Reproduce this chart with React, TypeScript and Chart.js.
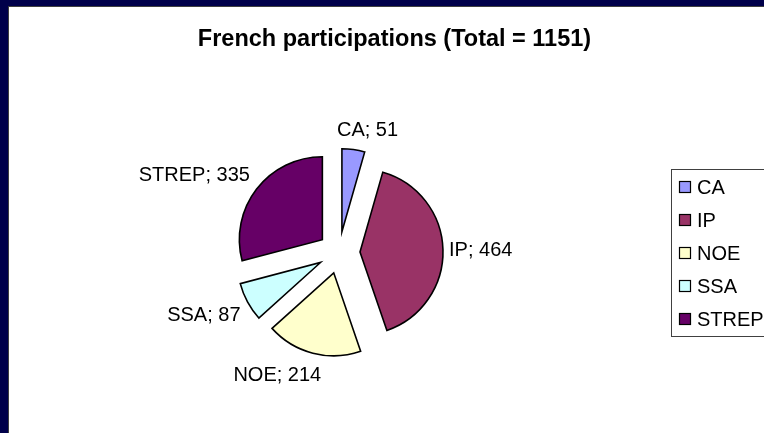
import React, { useEffect, useRef } from "react";
import { Chart, registerables } from "chart.js";

Chart.register(...registerables);

const categories = ["CA", "IP", "NOE", "SSA", "STREP"];
const participations = [51, 464, 214, 87, 335];
const total = 1151;
const titleText = `French participations (Total = ${total})`;
const sliceColors = ["#9999FF", "#993366", "#FFFFCC", "#CCFFFF", "#660066"];

const FONT = '"Liberation Sans", Arial, Helvetica, sans-serif';
const EXPLODE = 21;
const RADIUS = 83;
const LABEL_SIZE = 20;
const CAP = 0.716;

const W = 755;
const H = 426;

export default function App() {
  const ref = useRef<HTMLCanvasElement>(null);

  useEffect(() => {
    if (!ref.current) return;

    const explodePlugin = {
      id: "explodeSlices",
      beforeDatasetsDraw(chart: any) {
        const ctx = chart.ctx;
        const meta = chart.getDatasetMeta(0);
        meta.data.forEach((arc: any) => {
          const p = arc.getProps(["startAngle", "endAngle"], true);
          const mid = (p.startAngle + p.endAngle) / 2;
          ctx.save();
          ctx.translate(Math.cos(mid) * EXPLODE, Math.sin(mid) * EXPLODE);
          arc.draw(ctx);
          ctx.restore();
        });
        return false;
      },
    };

    const decorPlugin = {
      id: "decor",
      afterDraw(chart: any) {
        const ctx = chart.ctx;
        const meta = chart.getDatasetMeta(0);
        const labels = chart.data.labels as string[];
        const data = chart.data.datasets[0].data as number[];
        const colors = chart.data.datasets[0].backgroundColor as string[];

        // Title
        ctx.save();
        ctx.fillStyle = "#000";
        ctx.font = `bold 23.5px ${FONT}`;
        ctx.textAlign = "center";
        ctx.textBaseline = "alphabetic";
        ctx.fillText(titleText, 385.5, 39.3);
        ctx.restore();

        // Data labels
        ctx.save();
        ctx.font = `${LABEL_SIZE}px ${FONT}`;
        ctx.fillStyle = "#000";
        ctx.textAlign = "left";
        ctx.textBaseline = "alphabetic";
        const capH = LABEL_SIZE * CAP;
        const boxH = capH + 8;
        meta.data.forEach((arc: any, i: number) => {
          const p = arc.getProps(["x", "y", "startAngle", "endAngle", "outerRadius"], true);
          const mid = (p.startAngle + p.endAngle) / 2;
          const gap = 6 + 4 * Math.abs(Math.sin(mid));
          const dist = p.outerRadius + EXPLODE + gap;
          const ax = p.x + Math.cos(mid) * dist;
          const ay = p.y + Math.sin(mid) * dist;
          const text = `${labels[i]}; ${data[i]}`;
          const w = ctx.measureText(text).width;
          const xf = Math.min(1, Math.max(0, 0.5 - 1.5 * Math.cos(mid)));
          const yf = Math.min(1, Math.max(0, 0.5 - 0.74 * Math.sin(mid)));
          const left = ax - w * xf;
          const top = ay - boxH * yf;
          ctx.fillText(text, left, top + 4 + capH);
        });
        ctx.restore();

        // Legend
        ctx.save();
        ctx.strokeStyle = "#404040";
        ctx.lineWidth = 1;
        ctx.strokeRect(662.5, 162.5, 200, 167);
        ctx.font = `${LABEL_SIZE}px ${FONT}`;
        ctx.textBaseline = "alphabetic";
        labels.forEach((lab, i) => {
          const cy = 180 + i * 33;
          ctx.fillStyle = colors[i];
          ctx.fillRect(670.5, cy - 5.5, 11, 11);
          ctx.strokeStyle = "#000";
          ctx.lineWidth = 1.2;
          ctx.strokeRect(670.5, cy - 5.5, 11, 11);
          ctx.fillStyle = "#000";
          ctx.fillText(lab, 688, cy + capH / 2);
        });
        ctx.restore();
      },
    };

    const chart = new Chart(ref.current, {
      type: "pie",
      data: {
        labels: categories,
        datasets: [
          {
            data: participations,
            backgroundColor: sliceColors,
            borderColor: "#000",
            borderWidth: 1.6,
            borderJoinStyle: "miter",
            radius: RADIUS,
          } as any,
        ],
      },
      options: {
        responsive: false,
        maintainAspectRatio: false,
        animation: false,
        devicePixelRatio: 1,
        layout: { padding: { left: 0, right: 95, top: 65, bottom: 0 } },
        plugins: {
          legend: { display: false },
          title: { display: false },
          tooltip: { enabled: false },
        },
      } as any,
      plugins: [explodePlugin, decorPlugin],
    });

    return () => chart.destroy();
  }, []);

  return (
    <div
      style={{
        position: "fixed",
        left: 0,
        top: 0,
        width: 764,
        height: 433,
        background: "#00004A",
        overflow: "hidden",
      }}
    >
      <div
        style={{
          position: "absolute",
          left: 8,
          top: 6,
          width: 756,
          height: 427,
          background: "#fff",
          borderLeft: "1px solid #404040",
          borderTop: "1px solid #404040",
        }}
      >
        <canvas
          ref={ref}
          width={W}
          height={H}
          style={{ display: "block", width: W, height: H }}
        />
      </div>
    </div>
  );
}
